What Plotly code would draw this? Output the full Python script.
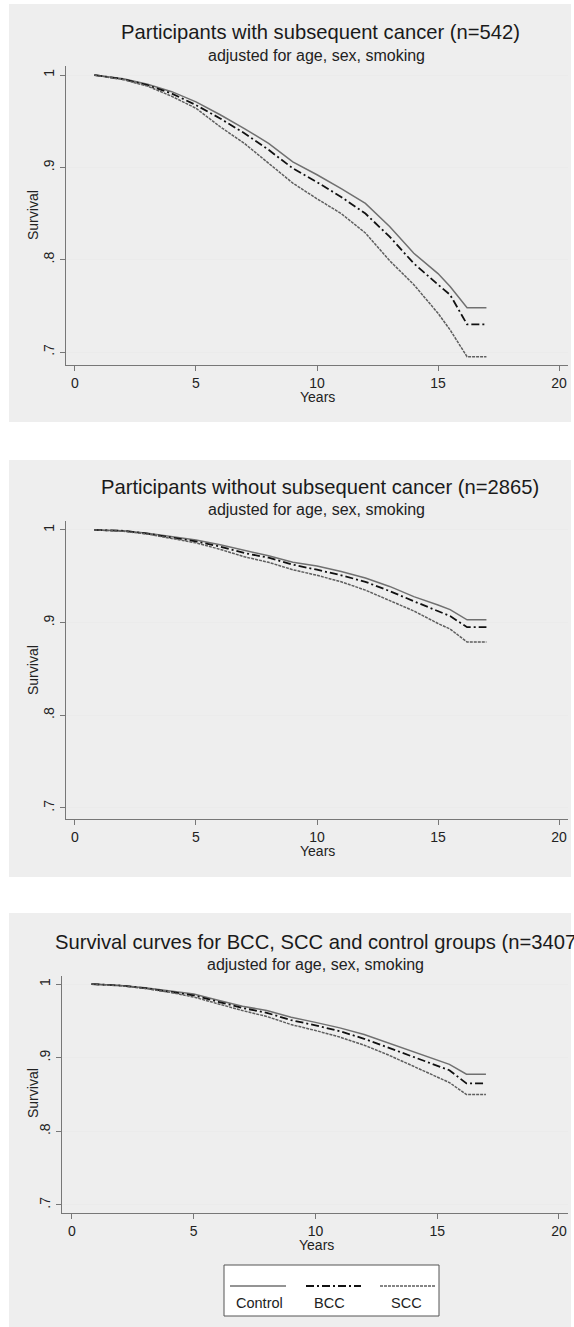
import plotly.graph_objects as go

W, H = 574, 1327

# ---------------- data ----------------
years = [0.8, 2, 3, 4, 5, 6, 7, 8, 9, 10, 11, 12, 13, 14, 15, 15.5, 16.2, 17.0]

# Panel 1: participants with subsequent cancer (n=542)
p1_control = [1.0, 0.996, 0.990, 0.982, 0.971, 0.957, 0.942, 0.926, 0.906, 0.892, 0.877, 0.861, 0.836, 0.807, 0.785, 0.771, 0.748, 0.748]
p1_bcc     = [1.0, 0.9955, 0.989, 0.980, 0.9675, 0.953, 0.937, 0.919, 0.899, 0.884, 0.868, 0.850, 0.825, 0.796, 0.773, 0.762, 0.730, 0.730]
p1_scc     = [1.0, 0.995, 0.988, 0.977, 0.964, 0.944, 0.926, 0.904, 0.883, 0.866, 0.850, 0.829, 0.799, 0.773, 0.742, 0.724, 0.695, 0.695]

# Panel 2: participants without subsequent cancer (n=2865)
p2_control = [1.0, 0.999, 0.9965, 0.993, 0.989, 0.984, 0.978, 0.972, 0.965, 0.961, 0.955, 0.948, 0.939, 0.928, 0.919, 0.914, 0.903, 0.903]
p2_bcc     = [1.0, 0.999, 0.996, 0.992, 0.9875, 0.982, 0.975, 0.970, 0.9625, 0.957, 0.951, 0.944, 0.934, 0.923, 0.9125, 0.907, 0.895, 0.895]
p2_scc     = [1.0, 0.9985, 0.9955, 0.991, 0.986, 0.979, 0.971, 0.965, 0.957, 0.951, 0.944, 0.935, 0.924, 0.9125, 0.899, 0.893, 0.879, 0.879]

# Panel 3: all groups (n=3407)
p3_control = [1.0, 0.998, 0.995, 0.991, 0.9865, 0.978, 0.970, 0.964, 0.955, 0.948, 0.9405, 0.9315, 0.920, 0.909, 0.8965, 0.891, 0.8775, 0.8775]
p3_bcc     = [1.0, 0.998, 0.9945, 0.990, 0.9847, 0.976, 0.9676, 0.961, 0.951, 0.944, 0.936, 0.9257, 0.9135, 0.901, 0.8887, 0.883, 0.865, 0.865]
p3_scc     = [1.0, 0.9978, 0.994, 0.989, 0.9824, 0.973, 0.964, 0.956, 0.945, 0.937, 0.928, 0.917, 0.9036, 0.8887, 0.8739, 0.8662, 0.850, 0.850]

group_names = ["Control", "BCC", "SCC"]
panel_titles = [
    "Participants with subsequent cancer (n=542)",
    "Participants without subsequent cancer (n=2865)",
    "Survival curves for BCC, SCC and control groups (n=3407)",
]
subtitle = "adjusted for age, sex, smoking"
x_ticks = [0, 5, 10, 15, 20]
y_ticks = [0.7, 0.8, 0.9, 1.0]
y_ticklabels = [".7", ".8", ".9", "1"]

panels = [
    (p1_control, p1_bcc, p1_scc),
    (p2_control, p2_bcc, p2_scc),
    (p3_control, p3_bcc, p3_scc),
]

# ---------------- styling / layout ----------------
styles = [
    dict(color="#707070", width=1.5, dash="solid"),
    dict(color="#111111", width=1.8, dash="8px,3px,2px,3px"),
    dict(color="#5e5e5e", width=1.5, dash="3px,1px"),
]

# plot-area boxes in pixels: (left, right, top, bottom)
boxes = [(66, 568, 66, 365), (66, 568, 521, 819), (62, 568, 976, 1213)]
xranges = [[-0.37, 20.37], [-0.37, 20.37], [-0.41, 20.37]]
yranges = [[0.686, 1.0098], [0.688, 1.0096], [0.689, 1.011]]
gray_boxes = [(9, 571, 4, 422), (9, 571, 460, 877), (9, 571, 913, 1327)]

def fx(px):
    return px / W

def fy(py):
    return 1 - py / H

fig = go.Figure()
font_family = "Liberation Sans, Arial, sans-serif"

for i, series in enumerate(panels):
    ax = "" if i == 0 else str(i + 1)
    for name, vals, st in zip(group_names, series, styles):
        fig.add_trace(go.Scatter(
            x=years, y=vals, mode="lines", name=name, showlegend=False,
            line=dict(color=st["color"], width=st["width"], dash=st["dash"]),
            xaxis="x" + ax, yaxis="y" + ax,
        ))
    l, r, t, b = boxes[i]
    axis_common = dict(showline=True, linecolor="#777777", linewidth=1.2,
                       ticks="outside", ticklen=5, tickcolor="#777777",
                       tickfont=dict(family=font_family, size=14, color="#222222"),
                       zeroline=False, fixedrange=True)
    fig.update_layout(**{
        "xaxis" + ax: dict(domain=[fx(l), fx(r)], range=xranges[i], tickvals=x_ticks,
                           showgrid=False, anchor="y" + ax, **axis_common),
        "yaxis" + ax: dict(domain=[fy(b), fy(t)], range=yranges[i], tickvals=y_ticks,
                           ticktext=y_ticklabels, tickangle=-90, showgrid=True,
                           gridcolor="#ebebeb", gridwidth=1, anchor="x" + ax,
                           **axis_common),
    })

shapes = []
for (l, r, t, b) in gray_boxes:
    shapes.append(dict(type="rect", xref="paper", yref="paper",
                       x0=fx(l), x1=fx(r), y0=fy(b), y1=fy(t),
                       fillcolor="#eeeeee", line=dict(width=0), layer="below"))

annotations = []
title_pos = [(320, 32, "center"), (320, 487, "center"), (53, 942, "left")]
sub_pos = [(316, 55), (316, 510), (315, 964)]
years_y = [397, 851, 1245]
surv_y = [215, 670, 1093]
years_x = [317, 317, 316]
for i in range(3):
    tx, ty, anc = title_pos[i]
    annotations.append(dict(text=panel_titles[i], x=fx(tx), y=fy(ty), xref="paper", yref="paper",
                            xanchor=anc, yanchor="middle", showarrow=False,
                            font=dict(family=font_family, size=20.2, color="#1a1a1a")))
    sx, sy = sub_pos[i]
    annotations.append(dict(text=subtitle, x=fx(sx), y=fy(sy), xref="paper", yref="paper",
                            xanchor="center", yanchor="middle", showarrow=False,
                            font=dict(family=font_family, size=16, color="#222222")))
    annotations.append(dict(text="Years", x=fx(years_x[i]), y=fy(years_y[i]), xref="paper", yref="paper",
                            xanchor="center", yanchor="middle", showarrow=False,
                            font=dict(family=font_family, size=14, color="#222222")))
    annotations.append(dict(text="Survival", x=fx(33), y=fy(surv_y[i]), xref="paper", yref="paper",
                            xanchor="center", yanchor="middle", showarrow=False, textangle=-90,
                            font=dict(family=font_family, size=14, color="#222222")))

# custom Stata-style legend (sample line above label)
shapes.append(dict(type="rect", xref="paper", yref="paper",
                   x0=fx(224), x1=fx(439), y0=fy(1316), y1=fy(1265),
                   fillcolor="white", line=dict(color="#555555", width=1)))
leg_lines = [(230, 286), (306, 361), (380, 435)]
leg_text_x = [259, 329, 406]
for (x0, x1), tx, name, st in zip(leg_lines, leg_text_x, group_names, styles):
    shapes.append(dict(type="line", xref="paper", yref="paper",
                       x0=fx(x0), x1=fx(x1), y0=fy(1286), y1=fy(1286),
                       line=dict(color=st["color"], width=st["width"], dash=st["dash"])))
    annotations.append(dict(text=name, x=fx(tx), y=fy(1303), xref="paper", yref="paper",
                            xanchor="center", yanchor="middle", showarrow=False,
                            font=dict(family=font_family, size=14.5, color="#222222")))

fig.update_layout(
    width=W, height=H,
    margin=dict(l=0, r=0, t=0, b=0),
    paper_bgcolor="white", plot_bgcolor="white",
    shapes=shapes, annotations=annotations,
    showlegend=False,
)

fig.write_html(
    "out.html",
    config={"displayModeBar": False},
    post_script="document.body.style.margin='0';document.body.style.padding='0';"
                "document.documentElement.style.overflow='hidden';",
)
